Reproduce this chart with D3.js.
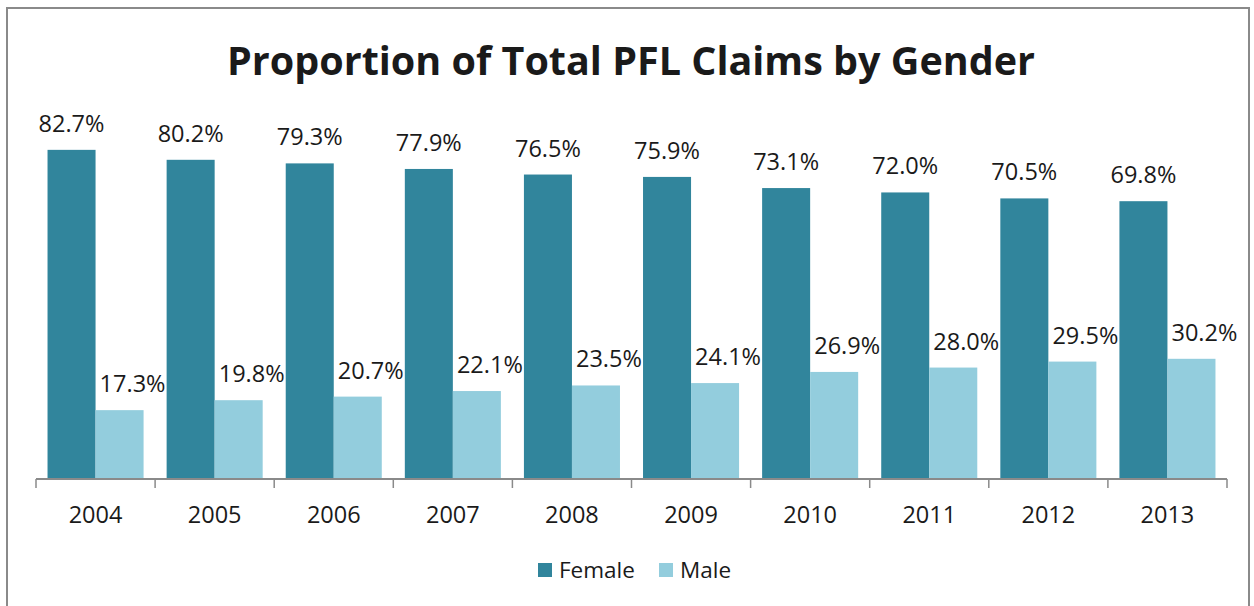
<!DOCTYPE html>
<html>
<head>
<meta charset="utf-8">
<script src="https://cdn.jsdelivr.net/npm/d3@7"></script>
<style>
  body { margin: 0; background: #fff; }
  text { font-family: "Open Sans", sans-serif; fill: #1a1a1a; }
</style>
</head>
<body>
<script>
// data
var years = ["2004", "2005", "2006", "2007", "2008", "2009", "2010", "2011", "2012", "2013"];
var female = [82.7, 80.2, 79.3, 77.9, 76.5, 75.9, 73.1, 72.0, 70.5, 69.8];
var male = [17.3, 19.8, 20.7, 22.1, 23.5, 24.1, 26.9, 28.0, 29.5, 30.2];
var seriesNames = ["Female", "Male"];
var seriesColors = ["#31859c", "#93cddd"];

const canvWidth = 1254, canvHeight = 606;
const baseY = 479;

const svg = d3.select("body").append("svg")
    .attr("width", canvWidth)
    .attr("height", canvHeight);

// chart frame
svg.append("rect")
    .attr("x", 7).attr("y", 8)
    .attr("width", 1242).attr("height", 620)
    .attr("fill", "none")
    .attr("stroke", "#8a8a8a")
    .attr("stroke-width", 2);

svg.append("text")
    .attr("x", 631)
    .attr("y", 75)
    .attr("text-anchor", "middle")
    .attr("font-size", "39.5px")
    .attr("font-weight", "bold")
    .attr("fill", "#000")
    .text("Proportion of Total PFL Claims by Gender");

// scales
var xScale = d3.scaleBand()
    .domain(years)
    .range([36, 1227])
    .paddingInner(0)
    .paddingOuter(0);

var xInner = d3.scaleBand()
    .domain(seriesNames)
    .range([0, xScale.bandwidth()])
    .paddingInner(0)
    .paddingOuter(0.24);

var yScale = d3.scaleLinear()
    .domain([0, 100])
    .range([baseY, baseY - 398]);

var rows = years.map(function (y, i) {
    return {year: y, values: [female[i], male[i]]};
});

var groups = svg.selectAll("g.year")
    .data(rows)
    .enter()
    .append("g")
    .attr("class", "year")
    .attr("transform", d => "translate(" + xScale(d.year) + ",0)");

groups.selectAll("rect")
    .data(d => d.values.map((v, k) => ({name: seriesNames[k], value: v, k: k})))
    .enter()
    .append("rect")
    .attr("x", d => xInner(d.name))
    .attr("y", d => yScale(d.value))
    .attr("width", xInner.bandwidth())
    .attr("height", d => baseY - yScale(d.value))
    .attr("fill", d => seriesColors[d.k]);

// value labels (male ones sit a bit to the right, like Excel did)
groups.selectAll("text.val")
    .data(d => d.values.map((v, k) => ({name: seriesNames[k], value: v, k: k})))
    .enter()
    .append("text")
    .attr("class", "val")
    .attr("x", d => xInner(d.name) + xInner.bandwidth() / 2 + (d.k == 1 ? 13 : 0))
    .attr("y", d => yScale(d.value) - 18)
    .attr("text-anchor", "middle")
    .attr("font-size", "23.5px")
    .text(d => d.value.toFixed(1) + "%");

// x axis: line + ticks at category boundaries
var bounds = years.map(y => xScale(y)).concat([xScale.range()[1]]);
svg.append("line")
    .attr("x1", xScale.range()[0]).attr("x2", xScale.range()[1])
    .attr("y1", baseY).attr("y2", baseY)
    .attr("stroke", "#8a8a8a").attr("stroke-width", 2);
svg.selectAll("line.tick")
    .data(bounds)
    .enter()
    .append("line")
    .attr("class", "tick")
    .attr("x1", d => d).attr("x2", d => d)
    .attr("y1", baseY).attr("y2", baseY + 9)
    .attr("stroke", "#8a8a8a").attr("stroke-width", 1.5);

svg.selectAll("text.yr")
    .data(years)
    .enter()
    .append("text")
    .attr("class", "yr")
    .attr("x", d => xScale(d) + xScale.bandwidth() / 2)
    .attr("y", 523)
    .attr("text-anchor", "middle")
    .attr("font-size", "23.5px")
    .text(d => d);

// legend
var legend = svg.append("g").attr("transform", "translate(538,563)");
var legX = [0, 121];
seriesNames.forEach(function (n, i) {
    legend.append("rect")
        .attr("x", legX[i]).attr("y", 0)
        .attr("width", 14).attr("height", 14)
        .attr("fill", seriesColors[i]);
    legend.append("text")
        .attr("x", legX[i] + 21).attr("y", 15)
        .attr("font-size", "22.5px")
        .text(n);
});
</script>
</body>
</html>
